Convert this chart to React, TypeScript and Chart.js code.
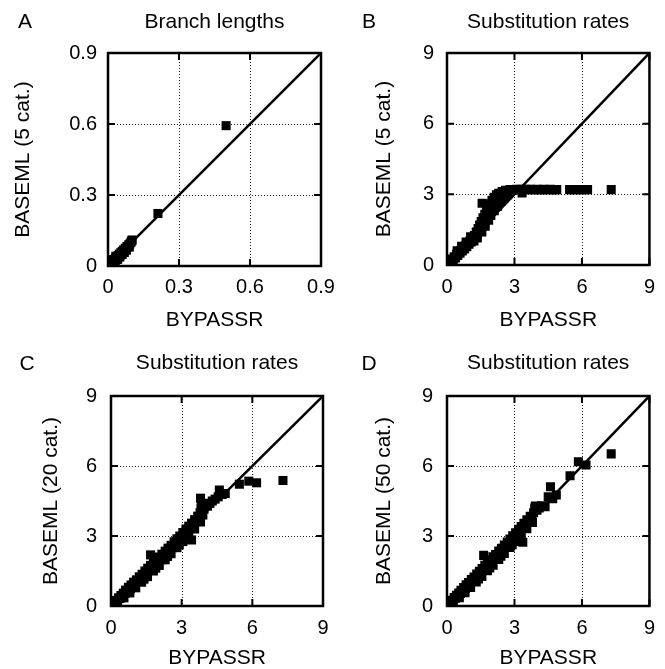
import { useEffect, useRef } from "react";
import { Chart, registerables } from "chart.js";

Chart.register(...registerables);

type Pt = [number, number];

// ---------- data ----------
const PANEL_LETTERS = ["A", "B", "C", "D"];
const PANEL_TITLES = ["Branch lengths", "Substitution rates", "Substitution rates", "Substitution rates"];
const Y_TITLES = ["BASEML (5 cat.)", "BASEML (5 cat.)", "BASEML (20 cat.)", "BASEML (50 cat.)"];
const X_TITLE = "BYPASSR";
const BRANCH_TICKS = [0, 0.3, 0.6, 0.9];
const RATE_TICKS = [0, 3, 6, 9];

const branchLengths5: Pt[] = [
  [0.002, 0.003], [0.004, 0.001], [0.006, 0.007], [0.008, 0.004], [0.01, 0.011], [0.012, 0.008],
  [0.014, 0.015], [0.016, 0.012], [0.018, 0.02], [0.02, 0.016], [0.022, 0.024], [0.025, 0.02],
  [0.027, 0.028], [0.03, 0.025], [0.032, 0.033], [0.035, 0.029], [0.037, 0.038], [0.04, 0.034],
  [0.043, 0.044], [0.046, 0.04], [0.048, 0.05], [0.051, 0.045], [0.054, 0.056], [0.057, 0.051],
  [0.06, 0.062], [0.063, 0.058], [0.066, 0.068], [0.07, 0.065], [0.073, 0.075], [0.077, 0.073],
  [0.08, 0.083], [0.084, 0.081], [0.088, 0.09], [0.092, 0.093], [0.097, 0.1], [0.1, 0.106],
  [0.102, 0.11], [0.211, 0.222], [0.499, 0.593],
  [0.012, 0.002], [0.022, 0.01], [0.03, 0.017], [0.041, 0.028], [0.05, 0.038], [0.06, 0.049],
  [0.069, 0.057], [0.078, 0.067], [0.09, 0.08], [0.006, 0.014], [0.018, 0.026], [0.033, 0.041],
];

const rates5: Pt[] = [
  [0.03, 0.05], [0.08, 0.03], [0.12, 0.15], [0.18, 0.1], [0.22, 0.25], [0.28, 0.2], [0.32, 0.35],
  [0.38, 0.3], [0.42, 0.45], [0.48, 0.4], [0.52, 0.55], [0.58, 0.5], [0.62, 0.63], [0.68, 0.6],
  [0.72, 0.72], [0.78, 0.68], [0.82, 0.82], [0.88, 0.78], [0.92, 0.92], [0.98, 0.88], [1.02, 1.02],
  [1.08, 0.98], [1.12, 1.12], [1.18, 1.1], [1.22, 1.25], [1.28, 1.2],
  [0.45, 0.6], [0.65, 0.8], [0.85, 0.98], [1.05, 1.2], [1.2, 1.02], [1.35, 1.15],
  [1.3, 1.4], [1.35, 1.32], [1.38, 1.55], [1.42, 1.45], [1.45, 1.7], [1.5, 1.6], [1.52, 1.85],
  [1.58, 1.75], [1.6, 2.0], [1.65, 1.9], [1.68, 2.15], [1.72, 2.05], [1.76, 2.3], [1.8, 2.2],
  [1.84, 2.45], [1.88, 2.35], [1.92, 2.6], [1.96, 2.5], [2.0, 2.75], [2.05, 2.62], [2.1, 2.88],
  [2.15, 2.75], [2.2, 2.98], [2.28, 2.88], [2.3, 3.05], [2.4, 3.0], [2.45, 3.12], [2.55, 3.1],
  [2.6, 3.17], [2.7, 3.15], [2.8, 3.2],
  [1.55, 1.4], [1.7, 1.65], [1.85, 1.9], [1.95, 2.1], [2.1, 2.3], [2.25, 2.5], [2.4, 2.7],
  [2.55, 2.85], [2.7, 2.98],
  [1.56, 2.62], [3.34, 3.06],
  [2.9, 3.2], [3.0, 3.2], [3.1, 3.21], [3.2, 3.2], [3.3, 3.21], [3.4, 3.2], [3.5, 3.21], [3.6, 3.2],
  [3.7, 3.21], [3.8, 3.2], [3.9, 3.2], [4.0, 3.21], [4.1, 3.2], [4.2, 3.2], [4.3, 3.21], [4.4, 3.2],
  [4.5, 3.2], [4.6, 3.21], [4.7, 3.2], [4.8, 3.2], [4.88, 3.2],
  [5.45, 3.2], [5.6, 3.2], [5.75, 3.2], [5.9, 3.2], [6.05, 3.2], [6.25, 3.2], [7.3, 3.2],
];

const rates20: Pt[] = [
  [0.03, 0.05], [0.08, 0.04], [0.12, 0.14], [0.18, 0.13], [0.22, 0.24], [0.28, 0.22], [0.32, 0.35],
  [0.38, 0.32], [0.42, 0.45], [0.48, 0.42], [0.52, 0.55], [0.6, 0.55], [0.62, 0.68], [0.7, 0.64],
  [0.74, 0.8], [0.82, 0.74], [0.85, 0.9], [0.92, 0.84], [0.96, 1.02], [1.04, 0.95], [1.08, 1.12],
  [1.15, 1.05], [1.2, 1.25], [1.28, 1.16], [1.32, 1.36], [1.4, 1.28], [1.44, 1.5], [1.52, 1.4],
  [1.56, 1.62], [1.65, 1.52], [1.68, 1.74], [1.76, 1.62], [1.8, 1.86], [1.88, 1.74], [1.92, 1.98],
  [2.0, 1.86], [2.04, 2.1], [2.12, 1.98], [2.16, 2.22], [2.25, 2.1], [2.3, 2.35], [2.38, 2.22],
  [2.42, 2.48], [2.5, 2.36], [2.55, 2.6], [2.62, 2.5], [2.68, 2.75], [2.75, 2.62], [2.8, 2.88],
  [2.88, 2.76], [2.92, 3.0], [3.0, 2.9], [3.05, 3.15], [3.12, 3.05], [3.18, 3.3], [3.25, 3.2],
  [3.3, 3.42], [3.38, 3.35], [3.42, 3.55], [3.5, 3.5], [3.55, 3.7], [3.62, 3.62], [3.68, 3.85],
  [3.75, 3.75], [3.78, 4.0], [3.82, 4.2], [3.85, 4.4], [3.8, 4.62], [3.9, 3.9], [3.95, 4.15],
  [4.02, 4.35], [4.1, 4.28], [4.2, 4.4], [4.3, 4.5], [4.42, 4.58], [4.55, 4.68], [4.6, 4.97],
  [4.72, 4.78], [4.85, 4.82],
  [0.55, 0.35], [0.8, 0.56], [1.05, 0.78], [1.3, 1.02], [1.55, 1.26], [1.8, 1.5], [2.05, 1.74],
  [2.3, 1.98], [2.55, 2.24], [2.8, 2.5], [3.05, 2.76], [3.3, 3.02], [3.55, 3.3], [3.8, 3.6],
  [1.4, 1.15], [1.9, 1.62], [2.4, 2.12], [2.9, 2.62],
  [1.68, 2.19], [3.42, 2.83], [5.45, 5.22], [5.85, 5.35], [6.18, 5.28], [7.3, 5.38],
];

const rates50: Pt[] = [
  [0.03, 0.04], [0.08, 0.05], [0.12, 0.13], [0.18, 0.14], [0.22, 0.25], [0.28, 0.22], [0.32, 0.36],
  [0.38, 0.33], [0.42, 0.46], [0.48, 0.42], [0.52, 0.56], [0.6, 0.54], [0.62, 0.67], [0.7, 0.63],
  [0.74, 0.79], [0.82, 0.75], [0.85, 0.91], [0.92, 0.85], [0.96, 1.01], [1.04, 0.96], [1.08, 1.13],
  [1.15, 1.06], [1.2, 1.24], [1.28, 1.17], [1.32, 1.37], [1.4, 1.29], [1.44, 1.49], [1.52, 1.41],
  [1.56, 1.61], [1.65, 1.53], [1.68, 1.75], [1.76, 1.63], [1.8, 1.87], [1.88, 1.75], [1.92, 1.97],
  [2.0, 1.87], [2.04, 2.11], [2.12, 1.99], [2.16, 2.21], [2.25, 2.11], [2.3, 2.36], [2.38, 2.23],
  [2.42, 2.47], [2.5, 2.37], [2.55, 2.61], [2.62, 2.51], [2.68, 2.74], [2.75, 2.63], [2.8, 2.87],
  [2.88, 2.77], [2.92, 3.01], [3.0, 2.91], [3.05, 3.14], [3.12, 3.04], [3.18, 3.29], [3.25, 3.19],
  [3.3, 3.41], [3.38, 3.34], [3.42, 3.54], [3.5, 3.48], [3.55, 3.7], [3.62, 3.6], [3.7, 3.85],
  [3.78, 3.75], [3.85, 4.0], [3.9, 4.2], [3.93, 4.28], [4.0, 4.1], [4.1, 4.2], [4.2, 4.3],
  [4.36, 4.26], [4.5, 4.68], [4.6, 5.11], [4.7, 4.6], [4.86, 4.76],
  [0.55, 0.36], [0.8, 0.57], [1.05, 0.79], [1.3, 1.03], [1.55, 1.27], [1.8, 1.51], [2.05, 1.75],
  [2.3, 1.99], [2.55, 2.25], [2.8, 2.51], [3.05, 2.77], [3.3, 3.03], [3.55, 3.31], [3.8, 3.58],
  [1.4, 1.16], [1.9, 1.63], [2.4, 2.13], [2.9, 2.63],
  [1.63, 2.17], [3.37, 2.73], [5.47, 5.58], [5.84, 6.18], [6.18, 6.04], [7.3, 6.52],
];

const PANEL_DATA: Pt[][] = [branchLengths5, rates5, rates20, rates50];
const PANEL_TICKS: number[][] = [BRANCH_TICKS, RATE_TICKS, RATE_TICKS, RATE_TICKS];

// ---------- layout (pixel geometry, styles) ----------
const W = 665;
const H = 669;
const FONT = "'Liberation Sans', Arial, Helvetica, sans-serif";
const TICK_SIZE = 20;
const TITLE_SIZE = 21;

const LAYOUT = [
  { left: 108, right: 321, top: 53, bottom: 266, yTitleX: 23, xTickY: 287, xTitleY: 320, titleY: 22, letterX: 25, letterY: 22, yTickGap: 11 },
  { left: 447, right: 657, top: 53, bottom: 265, yTitleX: 384, xTickY: 287, xTitleY: 320, titleY: 22, letterX: 369, letterY: 22, yTickGap: 13 },
  { left: 111, right: 323, top: 396, bottom: 606, yTitleX: 51, xTickY: 628, xTitleY: 658, titleY: 363, letterX: 27, letterY: 364, yTickGap: 14 },
  { left: 447, right: 657, top: 396, bottom: 606, yTitleX: 384, xTickY: 628, xTitleY: 658, titleY: 363, letterX: 369, letterY: 364, yTickGap: 14 },
];

function Panel({ idx }: { idx: number }) {
  const ref = useRef<HTMLCanvasElement>(null);

  useEffect(() => {
    const L = LAYOUT[idx];
    const ticks = PANEL_TICKS[idx];
    const max = ticks[ticks.length - 1];
    const pts = PANEL_DATA[idx];
    const letter = PANEL_LETTERS[idx];

    const tickLH = TICK_SIZE * 1.2;
    const axisTitleLH = TITLE_SIZE * 1.0;
    const titleLH = TITLE_SIZE * 1.2;

    const padLeft = L.yTitleX - axisTitleLH / 2;
    const yAxisWidth = L.left - padLeft;
    const xAxisHeight = L.xTitleY + axisTitleLH / 2 - L.bottom;
    const padBottom = H - L.bottom - xAxisHeight;
    const padRight = W - L.right;
    const padTop = L.titleY - titleLH / 2;
    const titleBottomPad = L.top - L.titleY - titleLH / 2;
    const xTickPad = L.xTickY - L.bottom - tickLH / 2;

    const setTicks = (scale: any) => {
      scale.ticks = ticks.map((v) => ({ value: v }));
    };

    const framePlugin = {
      id: "frame" + idx,
      beforeDatasetsDraw(chart: any) {
        const { ctx, chartArea } = chart;
        const { left, right, top, bottom } = chartArea;
        const xs = chart.scales.x;
        const ys = chart.scales.y;
        ctx.save();
        ctx.strokeStyle = "#222";
        ctx.lineWidth = 1;
        ctx.setLineDash([1, 2]);
        xs.ticks.forEach((t: any) => {
          const px = Math.round(xs.getPixelForValue(t.value)) + 0.5;
          if (px > left + 2 && px < right - 2) {
            ctx.beginPath();
            ctx.moveTo(px, top);
            ctx.lineTo(px, bottom);
            ctx.stroke();
          }
        });
        ys.ticks.forEach((t: any) => {
          const py = Math.round(ys.getPixelForValue(t.value)) + 0.5;
          if (py > top + 2 && py < bottom - 2) {
            ctx.beginPath();
            ctx.moveTo(left, py);
            ctx.lineTo(right, py);
            ctx.stroke();
          }
        });
        ctx.restore();
      },
      afterDatasetsDraw(chart: any) {
        const { ctx, chartArea } = chart;
        const { left, right, top, bottom } = chartArea;
        const xs = chart.scales.x;
        const ys = chart.scales.y;
        const tl = 7;
        ctx.save();
        ctx.strokeStyle = "#000";
        ctx.lineWidth = 2.5;
        ctx.setLineDash([]);
        ctx.strokeRect(left, top, right - left, bottom - top);
        ctx.lineWidth = 2;
        ctx.beginPath();
        xs.ticks.forEach((t: any) => {
          const px = xs.getPixelForValue(t.value);
          ctx.moveTo(px, bottom);
          ctx.lineTo(px, bottom - tl);
          ctx.moveTo(px, top);
          ctx.lineTo(px, top + tl);
        });
        ys.ticks.forEach((t: any) => {
          const py = ys.getPixelForValue(t.value);
          ctx.moveTo(left, py);
          ctx.lineTo(left + tl, py);
          ctx.moveTo(right, py);
          ctx.lineTo(right - tl, py);
        });
        ctx.stroke();
        ctx.fillStyle = "#000";
        ctx.font = `${TITLE_SIZE}px ${FONT}`;
        ctx.textAlign = "center";
        ctx.textBaseline = "middle";
        ctx.fillText(letter, L.letterX, L.letterY);
        ctx.restore();
      },
    };

    const chart = new Chart(ref.current as HTMLCanvasElement, {
      type: "scatter",
      data: {
        datasets: [
          {
            label: "sites",
            data: pts.map(([x, y]) => ({ x, y })),
            pointStyle: "rect",
            pointRadius: 6.4,
            pointHoverRadius: 6.4,
            backgroundColor: "#000",
            borderColor: "#000",
            borderWidth: 0,
          },
          {
            label: "y = x",
            data: [
              { x: 0, y: 0 },
              { x: max, y: max },
            ],
            showLine: true,
            borderColor: "#000",
            borderWidth: 2.5,
            pointRadius: 0,
            fill: false,
          } as any,
        ],
      },
      options: {
        responsive: false,
        animation: false,
        devicePixelRatio: 1,
        events: [],
        layout: { padding: { left: padLeft, right: padRight, top: padTop, bottom: padBottom } },
        plugins: {
          legend: { display: false },
          tooltip: { enabled: false },
          title: {
            display: true,
            text: PANEL_TITLES[idx],
            fullSize: false,
            color: "#000",
            font: { family: FONT, size: TITLE_SIZE, weight: "normal", lineHeight: 1.2 },
            padding: { top: 0, bottom: titleBottomPad },
          },
        },
        scales: {
          x: {
            type: "linear",
            position: "bottom",
            min: 0,
            max,
            afterBuildTicks: setTicks,
            afterFit: (s: any) => {
              s.height = xAxisHeight;
            },
            grid: { display: false, drawTicks: false },
            border: { display: false },
            ticks: {
              color: "#000",
              font: { family: FONT, size: TICK_SIZE, lineHeight: 1.2 },
              padding: xTickPad,
              autoSkip: false,
              maxRotation: 0,
              minRotation: 0,
              callback: (v: any) => String(v),
            },
            title: {
              display: true,
              text: X_TITLE,
              color: "#000",
              font: { family: FONT, size: TITLE_SIZE, lineHeight: 1.0 },
              padding: 0,
            },
          },
          y: {
            type: "linear",
            position: "left",
            min: 0,
            max,
            afterBuildTicks: setTicks,
            afterFit: (s: any) => {
              s.width = yAxisWidth;
            },
            grid: { display: false, drawTicks: false },
            border: { display: false },
            ticks: {
              color: "#000",
              font: { family: FONT, size: TICK_SIZE, lineHeight: 1.2 },
              padding: L.yTickGap,
              autoSkip: false,
              callback: (v: any) => String(v),
            },
            title: {
              display: true,
              text: Y_TITLES[idx],
              color: "#000",
              font: { family: FONT, size: TITLE_SIZE, lineHeight: 1.0 },
              padding: 0,
            },
          },
        },
      } as any,
      plugins: [framePlugin],
    });
    return () => chart.destroy();
  }, [idx]);

  return (
    <canvas
      ref={ref}
      width={W}
      height={H}
      style={{ position: "absolute", left: 0, top: 0, width: W, height: H }}
    />
  );
}

export default function App() {
  return (
    <div style={{ position: "absolute", left: 0, top: 0, width: W, height: H, background: "#fff" }}>
      {PANEL_LETTERS.map((_, i) => (
        <Panel key={i} idx={i} />
      ))}
    </div>
  );
}
